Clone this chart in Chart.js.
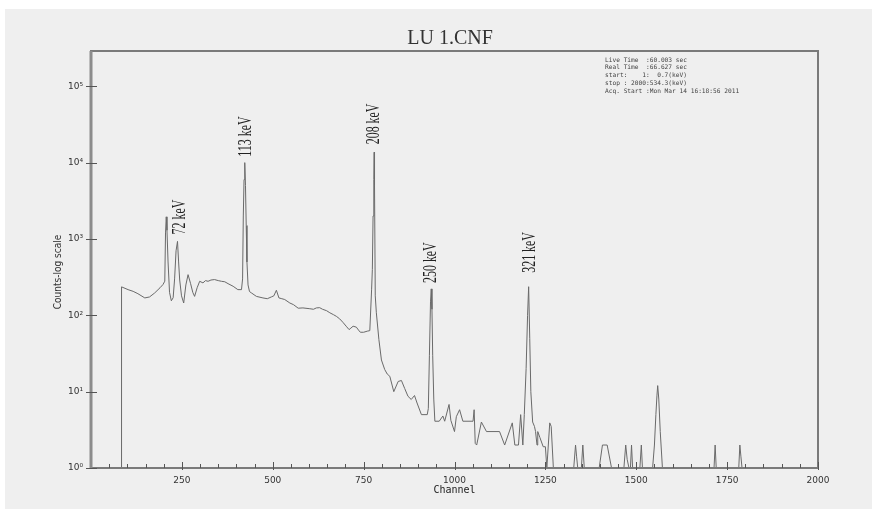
<!DOCTYPE html>
<html>
<head>
<meta charset="utf-8">
<script src="https://cdn.jsdelivr.net/npm/chart.js@4.4.1/dist/chart.umd.min.js"></script>
<style>
  html, body { margin: 0; padding: 0; background: #ffffff; }
  #wrap { width: 872px; height: 509px; position: relative; }
</style>
</head>
<body>
<div id="wrap"><canvas id="c" width="872" height="509"></canvas></div>
<script>
// ---- data ----
const channels = [
  83, 84, 102, 116, 129, 148, 161, 175, 190, 198, 203, 205, 207, 209, 212, 216, 221, 226, 230, 234,
  238, 241, 244, 249, 255, 261, 267, 274, 280, 285, 292, 299, 308, 315, 322, 330, 340, 350, 359, 368,
  377, 391, 404, 414, 417, 419, 421, 423, 425, 427, 429, 432, 436, 441, 455, 473, 485, 496, 503, 510, 517,
  525, 533, 547, 557, 570, 583, 602, 612, 620, 629, 637, 648, 657, 667, 675, 684, 693, 702, 710, 715,
  721, 730, 736, 741, 750, 760, 767, 772, 774, 776, 778, 779, 780, 782, 785, 792, 799, 808, 815, 822, 833,
  845, 854, 863, 872, 881, 890, 897, 909, 925, 928, 931, 934, 936, 938, 940, 943, 946, 958, 968, 973,
  985, 990, 1000, 1005, 1014, 1023, 1051, 1054, 1057, 1061, 1074, 1088, 1124, 1138, 1159, 1166, 1176, 1182, 1188, 1192,
  1197, 1201, 1204, 1207, 1210, 1215, 1220, 1223, 1227, 1229, 1235, 1244, 1250, 1254, 1262, 1266, 1272, 1328, 1333, 1336,
  1339, 1349, 1353, 1357, 1398, 1407, 1420, 1432, 1466, 1471, 1475, 1480, 1484, 1487, 1490, 1510, 1514, 1517, 1545, 1550,
  1554, 1557, 1559, 1562, 1566, 1572, 1714, 1717, 1720, 1782, 1785, 1788, 1791, 1800
];
const counts = [
  1, 236, 217, 206, 192, 169, 174, 196, 230, 253, 280, 1200, 1950, 1300, 500, 200, 155, 170, 300, 700,
  930, 500, 290, 180, 145, 250, 341, 260, 200, 177, 230, 279, 266, 285, 279, 290, 294, 285, 279, 275,
  260, 240, 217, 217, 300, 2000, 6000, 10000, 5000, 1500, 500, 250, 205, 197, 177, 169, 165, 174, 180, 213, 169,
  165, 161, 145, 138, 124, 125, 122, 120, 125, 126, 120, 115, 108, 102, 97, 90, 81, 72, 65, 68,
  72, 70, 64, 60, 60, 62, 63, 220, 400, 2000, 6000, 13700, 5000, 180, 108, 48, 26, 19.5, 17, 15.9, 10,
  13.6, 14, 11, 8.7, 7.9, 8.9, 7.1, 5, 5, 6, 30, 150, 222, 120, 30, 8, 4.1, 4.1, 4.8, 4.1,
  6.8, 4.2, 3.0, 4.7, 5.8, 4.1, 4.1, 5.8, 2.1, 2, 4, 3, 3, 2, 3.9, 2, 2, 5, 2, 5,
  20, 100, 237, 50, 10, 4, 3.5, 3, 2, 3, 2.5, 1.9, 1.9, 1, 3.9, 3.5, 1, 1, 2, 1.4,
  1, 1, 2, 1, 1, 2, 2, 1, 1, 2, 1.3, 1, 1, 2, 1, 1, 2, 1, 1, 2,
  5, 9, 12, 8, 3, 1, 1, 2, 1, 1, 2, 1.4, 1, 1
];
const yTickValues = [1, 10, 100, 1000, 10000, 100000];
const yTickLabels = ['10\u2070', '10\u00B9', '10\u00B2', '10\u00B3', '10\u2074', '10\u2075'];
const xTickValues = [250, 500, 750, 1000, 1250, 1500, 1750, 2000];
const xMinorStep = 50;
const peakLabels = ['72 keV', '113 keV', '208 keV', '250 keV', '321 keV'];
const peakChannels = [238, 423, 779, 936, 1204];
const peakCounts = [930, 10000, 13700, 222, 237];
const chartTitle = 'LU 1.CNF';
const xTitle = 'Channel';
const yTitle = 'Counts-log scale';
const infoLines = [
  'Live Time  :60.003 sec',
  'Real Time  :66.627 sec',
  'start:    1:  0.7(keV)',
  'stop : 2000:534.3(keV)',
  'Acq. Start :Mon Mar 14 16:18:56 2011'
];

// ---- drawing ----
const points = channels.map((c, i) => ({ x: c, y: counts[i] }));

const decor = {
  id: 'decor',
  beforeDraw(chart) {
    const ctx = chart.ctx;
    ctx.save();
    ctx.fillStyle = '#efefef';
    ctx.fillRect(5, 9, 867, 500);
    ctx.restore();
  },
  afterDraw(chart) {
    const ctx = chart.ctx;
    const ca = chart.chartArea;
    const xs = chart.scales.x, ys = chart.scales.y;
    ctx.save();
    // frame
    ctx.strokeStyle = '#7a7a7a';
    ctx.lineWidth = 2;
    ctx.strokeRect(ca.left, ca.top, ca.right - ca.left, ca.bottom - ca.top);
    ctx.strokeStyle = '#8c8c8c';
    ctx.lineWidth = 3;
    ctx.beginPath();
    ctx.moveTo(ca.left, ca.top); ctx.lineTo(ca.left, ca.bottom + 1);
    ctx.stroke();
    // y ticks
    ctx.strokeStyle = '#555';
    ctx.lineWidth = 1;
    yTickValues.forEach(v => {
      const y = Math.round(ys.getPixelForValue(v)) + 0.5;
      ctx.beginPath(); ctx.moveTo(ca.left - 5, y); ctx.lineTo(ca.left + 6, y); ctx.stroke();
    });
    // x ticks
    for (let v = xMinorStep; v <= 2000; v += xMinorStep) {
      const x = Math.round(xs.getPixelForValue(v)) + 0.5;
      const major = xTickValues.includes(v);
      ctx.beginPath();
      ctx.moveTo(x, ca.bottom + (major ? 2 : 0));
      ctx.lineTo(x, ca.bottom - (major ? 6 : 4));
      ctx.stroke();
    }
    // title
    ctx.fillStyle = '#333';
    ctx.font = '20px "Liberation Serif"';
    ctx.textAlign = 'center';
    ctx.textBaseline = 'middle';
    ctx.fillText(chartTitle, 450, 39);
    // y title
    ctx.save();
    ctx.translate(58, 272);
    ctx.rotate(-Math.PI / 2);
    ctx.font = '10px "DejaVu Sans Condensed", "DejaVu Sans"';
    ctx.fillStyle = '#333';
    ctx.textAlign = 'center';
    ctx.textBaseline = 'middle';
    ctx.fillText(yTitle, 0, 0);
    ctx.restore();
    // info box text
    ctx.font = '6.2px "DejaVu Sans Mono"';
    ctx.fillStyle = '#444';
    ctx.textAlign = 'left';
    ctx.textBaseline = 'middle';
    infoLines.forEach((t, i) => ctx.fillText(t, 605, 60 + i * 7.75));
    // peak labels
    const gaps = [7, 6, 8, 6, 14];
    const dx = [3, 2, 0, 0, 2];
    peakLabels.forEach((t, i) => {
      const x = xs.getPixelForValue(peakChannels[i]) + dx[i];
      const y = ys.getPixelForValue(peakCounts[i]) - gaps[i];
      ctx.save();
      ctx.translate(x, y);
      ctx.rotate(-Math.PI / 2);
      ctx.scale(0.66, 1);
      ctx.font = '18px "Liberation Serif"';
      ctx.fillStyle = '#222';
      ctx.textAlign = 'left';
      ctx.textBaseline = 'middle';
      ctx.fillText(t, 0, 0);
      ctx.restore();
    });
    ctx.restore();
  }
};

new Chart(document.getElementById('c'), {
  type: 'line',
  data: {
    datasets: [{
      data: points,
      borderColor: '#6a6a6a',
      borderWidth: 1,
      pointRadius: 0,
      tension: 0,
      fill: false
    }]
  },
  options: {
    responsive: false,
    animation: false,
    events: [],
    layout: { padding: { top: 51, right: 54, left: 0, bottom: 0 } },
    plugins: { legend: { display: false }, tooltip: { enabled: false }, title: { display: false } },
    scales: {
      x: {
        type: 'linear',
        min: 0, max: 2000,
        afterFit: s => { s.height = 41; },
        afterBuildTicks: s => { s.ticks = xTickValues.map(v => ({ value: v })); },
        grid: { display: false, drawTicks: false },
        border: { display: false },
        ticks: {
          padding: 7,
          color: '#333',
          font: { family: 'DejaVu Sans', size: 9 },
          maxRotation: 0,
          autoSkip: false,
          callback: v => String(v)
        },
        title: {
          display: true,
          text: xTitle,
          color: '#222',
          font: { family: 'DejaVu Sans Mono', size: 10 },
          padding: { top: 0, bottom: 13 }
        }
      },
      y: {
        type: 'logarithmic',
        min: 1, max: 290000,
        afterFit: s => { s.width = 91; },
        afterBuildTicks: s => { s.ticks = yTickValues.map(v => ({ value: v })); },
        grid: { display: false, drawTicks: false },
        border: { display: false },
        ticks: {
          padding: 8,
          color: '#333',
          font: { family: 'DejaVu Sans', size: 9 },
          autoSkip: false,
          callback: v => { const i = yTickValues.indexOf(v); return i >= 0 ? yTickLabels[i] : ''; }
        }
      }
    }
  },
  plugins: [decor]
});
</script>
</body>
</html>
